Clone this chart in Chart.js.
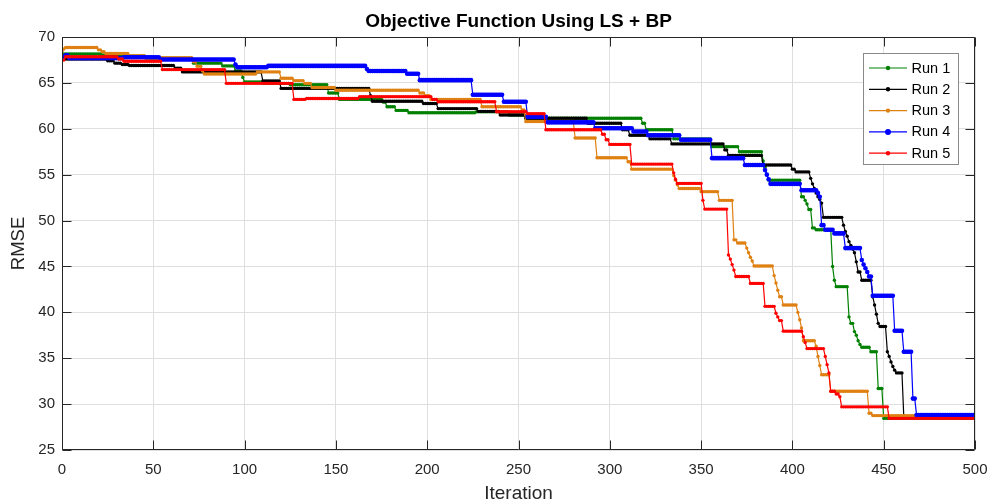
<!DOCTYPE html>
<html>
<head>
<meta charset="utf-8">
<script src="https://cdn.jsdelivr.net/npm/chart.js@4.4.1/dist/chart.umd.min.js"></script>
<style>
html,body{margin:0;padding:0;background:#ffffff;}
#wrap{position:relative;width:990px;height:503px;}
</style>
</head>
<body>
<div id="wrap"><canvas id="c" width="990" height="503"></canvas></div>
<script>
// ---- data ----
const chartTitle = 'Objective Function Using LS + BP';
const xAxisTitle = 'Iteration';
const yAxisTitle = 'RMSE';
const seriesLabels = ['Run 1', 'Run 2', 'Run 3', 'Run 4', 'Run 5'];
const seriesColors = ['#008000', '#000000', '#DF8012', '#0000FF', '#FF0000'];
const xTickValues = [0, 50, 100, 150, 200, 250, 300, 350, 400, 450, 500];
const yTickValues = [25, 30, 35, 40, 45, 50, 55, 60, 65, 70];
const lastIteration = 500;

// each run: [iteration at which the value changes, RMSE held from there on]
const run1 = [[0,68.15],[22,68.05],[36,67.9],[46,67.7],[72,67.15],[88,66.85],[95,66.3],[99,65.6],[100,65.1],[110,64.95],
  [125,64.8],[146,63.9],[152,63.2],[176,62.9],[178,62.4],[183,62.0],[190,61.75],[227,61.85],[245,61.5],[254,61.15],
  [318,60.6],[320,59.9],[335,58.9],[356,58.05],[371,57.5],[384,56.5],[385,55.8],[386,55.0],[387,54.4],[405,52.6],
  [407,52.2],[408,51.8],[409,51.2],[411,49.2],[413,49.0],[422,45.0],[423,43.5],[424,42.8],[431,39.5],[432,38.8],
  [434,37.9],[435,37.5],[436,36.9],[437,36.5],[438,36.2],[443,35.7],[447,31.7],[450,28.45]];
const run2 = [[0,67.6],[25,67.4],[29,67.15],[33,67.0],[37,66.9],[62,66.6],[66,66.2],[110,65.2],[120,64.4],[169,63.6],
  [170,63.0],[198,62.75],[206,62.2],[228,61.9],[240,61.5],[254,61.15],[288,60.6],[307,59.9],[311,59.3],[322,58.9],
  [334,58.35],[363,57.7],[365,57.1],[384,56.05],[400,55.6],[402,55.3],[410,54.6],[411,54.0],[412,53.5],[413,53.0],
  [414,52.6],[415,52.3],[416,51.9],[417,50.35],[428,49.5],[429,48.8],[430,48.3],[431,47.7],[432,47.3],[433,46.9],
  [434,46.5],[435,45.5],[436,44.4],[438,43.5],[444,41.7],[445,40.8],[446,39.8],[447,38.8],[448,38.45],[452,35.7],
  [453,35.2],[454,34.6],[455,34.1],[456,33.7],[457,33.4],[461,28.65]];
const run3 = [[0,68.4],[1,68.7],[2,68.85],[20,68.6],[22,68.4],[24,68.2],[37,67.97],[46,67.75],[72,67.3],[74,66.8],
  [77,66.3],[78,65.97],[107,66.2],[120,65.5],[127,65.25],[133,64.95],[137,64.5],[150,64.2],[196,63.9],[199,63.6],
  [202,63.2],[230,62.4],[252,62.05],[254,60.8],[281,59.0],[293,56.85],[310,56.4],[312,55.6],[335,54.9],[336,54.4],
  [337,53.9],[338,53.5],[350,53.15],[360,52.2],[368,47.9],[370,47.55],[375,47.0],[376,46.5],[377,46.0],[378,45.6],
  [379,45.05],[390,44.0],[391,43.2],[392,42.4],[393,41.7],[395,40.8],[403,40.0],[404,39.2],[405,38.3],[406,36.9],
  [413,36.3],[414,35.2],[415,34.2],[416,33.2],[421,31.4],[442,29.0],[444,28.75]];
const run4 = [[0,67.85],[2,68.0],[4,67.7],[34,67.8],[54,67.55],[95,67.0],[96,66.7],[113,66.85],[167,66.5],[168,66.3],
  [189,66.0],[196,65.3],[225,63.7],[242,62.95],[255,61.3],[266,60.7],[292,60.05],[313,59.7],[321,59.3],[339,58.8],
  [356,56.8],[374,56.05],[385,55.5],[386,55.0],[387,54.5],[388,54.0],[405,53.3],[414,53.0],[415,52.6],[416,49.5],
  [418,49.0],[423,48.6],[429,47.0],[438,45.7],[439,45.2],[440,44.8],[441,44.4],[442,43.9],[444,41.8],[456,38.0],
  [461,35.7],[466,30.6],[468,28.8]];
const run5 = [[0,67.5],[2,67.85],[31,67.6],[34,67.35],[55,66.45],[90,64.95],[127,63.2],[134,63.3],[163,63.5],[203,63.2],
  [206,62.95],[238,61.85],[255,61.65],[265,59.9],[296,59.4],[298,58.8],[300,58.3],[312,56.15],[335,55.2],[336,54.5],
  [337,54.05],[351,52.2],[352,51.25],[365,46.25],[366,45.8],[367,45.2],[368,44.6],[369,43.9],[377,43.15],[385,40.65],
  [391,39.9],[392,39.5],[393,39.1],[395,37.95],[406,37.35],[407,36.7],[408,36.05],[418,35.2],[419,34.3],[420,33.4],
  [421,31.4],[424,31.1],[426,30.8],[427,29.7],[453,28.45]];
const runs = [run1, run2, run3, run4, run5];

// step series: every iteration keeps the last recorded value
function stepSeries(changes) {
  const out = [];
  let k = 0;
  for (let i = 0; i <= lastIteration; i++) {
    while (k + 1 < changes.length && changes[k + 1][0] <= i) k++;
    out.push({ x: i, y: changes[k][1] });
  }
  return out;
}

const FONT = "'Liberation Sans', Arial, Helvetica, sans-serif";
const AXIS_COLOR = '#262626';
const markerRadius = [1.7, 1.7, 1.7, 2.3, 1.7];

const datasets = runs.map((r, i) => ({
  label: seriesLabels[i],
  data: stepSeries(r),
  borderColor: seriesColors[i],
  backgroundColor: seriesColors[i],
  pointBackgroundColor: seriesColors[i],
  pointBorderWidth: 0,
  pointRadius: markerRadius[i],
  pointHoverRadius: 0,
  borderWidth: 1.2,
  tension: 0,
  fill: false,
  order: runs.length - i
}));

const matlabAxes = {
  id: 'matlabAxes',
  afterDatasetsDraw(chart) {
    const { ctx, chartArea: a, scales: { x, y } } = chart;
    ctx.save();
    ctx.strokeStyle = AXIS_COLOR;
    ctx.lineWidth = 1;
    ctx.beginPath();
    const L = Math.round(a.left) + 0.5, R = Math.round(a.right) - 0.5;
    const T = Math.round(a.top) + 0.5, B = Math.round(a.bottom) - 0.5;
    ctx.rect(L, T, R - L, B - T);
    xTickValues.forEach(v => {
      const px = Math.round(x.getPixelForValue(v)) + 0.5;
      ctx.moveTo(px, B); ctx.lineTo(px, B - 9);
      ctx.moveTo(px, T); ctx.lineTo(px, T + 9);
    });
    yTickValues.forEach(v => {
      const py = Math.round(y.getPixelForValue(v)) + 0.5;
      ctx.moveTo(L, py); ctx.lineTo(L + 9, py);
      ctx.moveTo(R, py); ctx.lineTo(R - 9, py);
    });
    ctx.stroke();
    ctx.restore();
  },
  afterDraw(chart) {
    const { ctx, chartArea: a } = chart;
    const w = 95, h = 111;
    const bx = Math.round(a.right - 17 - w) + 0.5;
    const by = Math.round(a.top + 16) + 0.5;
    ctx.save();
    ctx.fillStyle = '#ffffff';
    ctx.fillRect(bx, by, w, h);
    ctx.strokeStyle = '#8a8a8a';
    ctx.lineWidth = 1;
    ctx.strokeRect(bx, by, w, h);
    ctx.font = '14.5px ' + FONT;
    ctx.textBaseline = 'middle';
    ctx.textAlign = 'left';
    chart.data.datasets.forEach((ds, i) => {
      const cy = by + 14.5 + i * 21.3;
      ctx.strokeStyle = ds.borderColor;
      ctx.lineWidth = 1.2;
      ctx.beginPath();
      ctx.moveTo(bx + 5.5, cy); ctx.lineTo(bx + 43.5, cy);
      ctx.stroke();
      ctx.fillStyle = ds.borderColor;
      ctx.beginPath();
      ctx.arc(bx + 24.5, cy, i === 3 ? 3 : 2.2, 0, Math.PI * 2);
      ctx.fill();
      ctx.fillStyle = '#000000';
      ctx.fillText(ds.label, bx + 48, cy + 0.5);
    });
    ctx.restore();
  }
};

new Chart(document.getElementById('c'), {
  type: 'line',
  data: { datasets },
  plugins: [matlabAxes],
  options: {
    responsive: false,
    animation: false,
    devicePixelRatio: 1,
    events: [],
    layout: { padding: { left: 0, right: 15, top: 0, bottom: 0 } },
    plugins: {
      legend: { display: false },
      tooltip: { enabled: false },
      title: {
        display: true,
        text: chartTitle,
        fullSize: false,
        color: '#000000',
        font: { family: FONT, size: 19, weight: 'bold', lineHeight: 1.2 },
        padding: { top: 10, bottom: 4.2 }
      }
    },
    scales: {
      x: {
        type: 'linear',
        min: 0, max: 500,
        afterBuildTicks: s => { s.ticks = xTickValues.map(v => ({ value: v })); },
        afterFit: s => { s.height = 53; s.paddingLeft = 0; s.paddingRight = 0; },
        grid: { color: '#dfdfdf', drawTicks: false, lineWidth: 1 },
        border: { display: false },
        ticks: { color: AXIS_COLOR, padding: 11, maxRotation: 0, autoSkip: false,
                 font: { family: FONT, size: 15 } },
        title: { display: true, text: xAxisTitle, color: AXIS_COLOR,
                 font: { family: FONT, size: 19, lineHeight: 1 }, padding: { top: 0, bottom: 0 } }
      },
      y: {
        type: 'linear',
        min: 25, max: 70,
        afterBuildTicks: s => { s.ticks = yTickValues.map(v => ({ value: v })); },
        afterFit: s => { s.width = 62; s.paddingTop = 0; s.paddingBottom = 0; },
        grid: { color: '#dfdfdf', drawTicks: false, lineWidth: 1 },
        border: { display: false },
        ticks: { color: AXIS_COLOR, padding: 7, font: { family: FONT, size: 15 } },
        title: { display: true, text: yAxisTitle, color: AXIS_COLOR,
                 font: { family: FONT, size: 18.5, lineHeight: 1 }, padding: { top: 10, bottom: 0 } }
      }
    }
  }
});
</script>
</body>
</html>
